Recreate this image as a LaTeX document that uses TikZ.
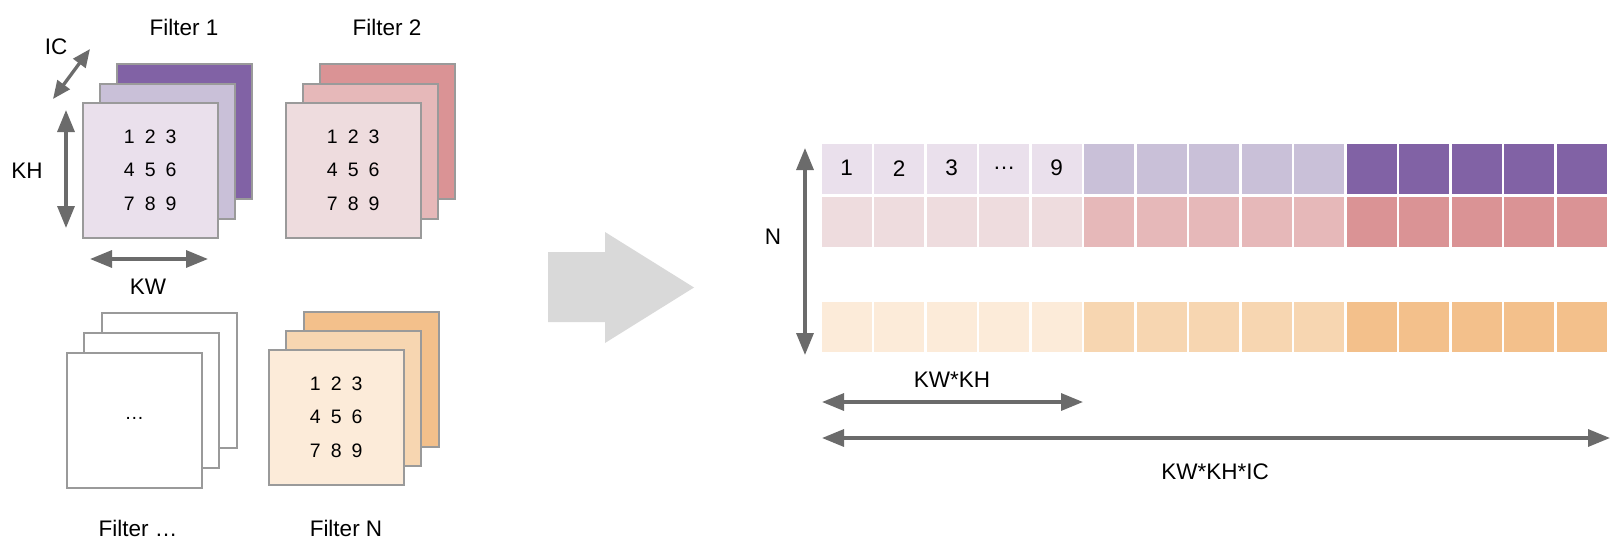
\documentclass[tikz,border=0pt]{standalone}
\usepackage{fontspec}
\setmainfont{Liberation Sans}
\usetikzlibrary{arrows.meta}
\definecolor{pl}{HTML}{EAE0EC}\definecolor{pm}{HTML}{C9C0D8}\definecolor{pd}{HTML}{8162A5}
\definecolor{rl}{HTML}{EEDCDE}\definecolor{rm}{HTML}{E6B8B9}\definecolor{rd}{HTML}{DA9395}
\definecolor{ol}{HTML}{FCEBD9}\definecolor{om}{HTML}{F7D6B1}\definecolor{od}{HTML}{F3C08B}
\definecolor{bord}{HTML}{9A9A9A}\definecolor{arr}{HTML}{6B6B6B}\definecolor{bigarr}{HTML}{D9D9D9}
\newcommand{\digrow}[3]{#1\hspace{10pt}#2\hspace{10pt}#3}
\tikzset{
  layer/.style={draw=bord, line width=1.5pt, minimum size=135pt, inner sep=0pt, anchor=north west},
  cell/.style={minimum size=50pt, inner sep=0pt, anchor=north west},
  lbl/.style={font=\fontsize{22.5}{26}\selectfont, inner sep=0pt},
  nums/.style={font=\fontsize{19.5}{33.5}\selectfont, align=center, inner sep=0pt},
  dimarrow/.style={draw=arr, line width=3.3pt, {Triangle[length=22pt,width=17pt]}-{Triangle[length=22pt,width=17pt]}},
}
\begin{document}
\begin{tikzpicture}[x=1pt,y=-1pt]
\useasboundingbox (0,0) rectangle (1614,557);
% Filter 1
\node[layer, fill=pd] (f1c) at (116,63) {};
\node[layer, fill=pm] (f1b) at (99,83) {};
\node[layer, fill=pl] (f1a) at (82,102) {};
\node[nums] (f1n) at (f1a.center) {\digrow123\\\digrow456\\\digrow789};
\node[lbl] (f1l) at (184,27) {Filter 1};
% Filter 2
\node[layer, fill=rd] (f2c) at (319,63) {};
\node[layer, fill=rm] (f2b) at (302,83) {};
\node[layer, fill=rl] (f2a) at (285,102) {};
\node[nums] (f2n) at (f2a.center) {\digrow123\\\digrow456\\\digrow789};
\node[lbl] (f2l) at (387,27) {Filter 2};
% Filter ...
\node[layer, fill=white] (f3c) at (101,312) {};
\node[layer, fill=white] (f3b) at (83,332) {};
\node[layer, fill=white] (f3a) at (66,352) {};
\node[nums] (f3n) at ([yshift=2pt]f3a.center) {\dots};
\node[lbl] (f3l) at (138,528) {Filter \dots};
% Filter N
\node[layer, fill=od] (f4c) at (303,311) {};
\node[layer, fill=om] (f4b) at (285,330) {};
\node[layer, fill=ol] (f4a) at (268,349) {};
\node[nums] (f4n) at (f4a.center) {\digrow123\\\digrow456\\\digrow789};
\node[lbl] (f4l) at (346,528) {Filter N};
% dimension arrows, left
\coordinate (ic1) at (53,99); \coordinate (ic2) at (90,49);
\draw[dimarrow, {Triangle[length=18pt,width=15pt]}-{Triangle[length=18pt,width=15pt]}] (ic1) -- (ic2);
\node[lbl] (icl) at (56,47) {IC};
\coordinate (kh1) at (66,110); \coordinate (kh2) at (66,228);
\draw[dimarrow] (kh1) -- (kh2);
\node[lbl] (khl) at (27,171) {KH};
\coordinate (kw1) at (90,259); \coordinate (kw2) at (208,259);
\draw[dimarrow] (kw1) -- (kw2);
\node[lbl] (kwl) at (148,287) {KW};
% big arrow
\fill[bigarr] (548,252) -- (605,252) -- (605,232) -- (694,287.5) -- (605,343) -- (605,322) -- (548,322) -- cycle;
% grid
\foreach \r/\yy/\ca/\cb/\cc in {0/144/pl/pm/pd, 1/196.5/rl/rm/rd, 3/301.5/ol/om/od}{
  \foreach \c in {0,...,14}{
    \pgfmathsetmacro{\xx}{821.5+52.5*\c}
    \ifnum\c<5 \def\cf{\ca}\else\ifnum\c<10 \def\cf{\cb}\else\def\cf{\cc}\fi\fi
    \node[cell, fill=\cf] (c-\r-\c) at (\xx,\yy) {};
  }
}
\foreach \c/\t in {0/1,1/2,2/3,3/\dots,4/9}{
  \node[lbl] at ([yshift=1pt]c-0-\c.center) {\t};
}
% right arrows
\coordinate (n1) at (805,148); \coordinate (n2) at (805,355);
\draw[dimarrow] (n1) -- (n2);
\node[lbl] (nl) at (773,237) {N};
\coordinate (a1) at (822,402); \coordinate (a2) at (1083,402);
\draw[dimarrow] (a1) -- (a2);
\node[lbl] (al) at (952,380) {KW*KH};
\coordinate (b1) at (822,438); \coordinate (b2) at (1610,438);
\draw[dimarrow] (b1) -- (b2);
\node[lbl] (bl) at (1215,472) {KW*KH*IC};
\end{tikzpicture}
\end{document}
